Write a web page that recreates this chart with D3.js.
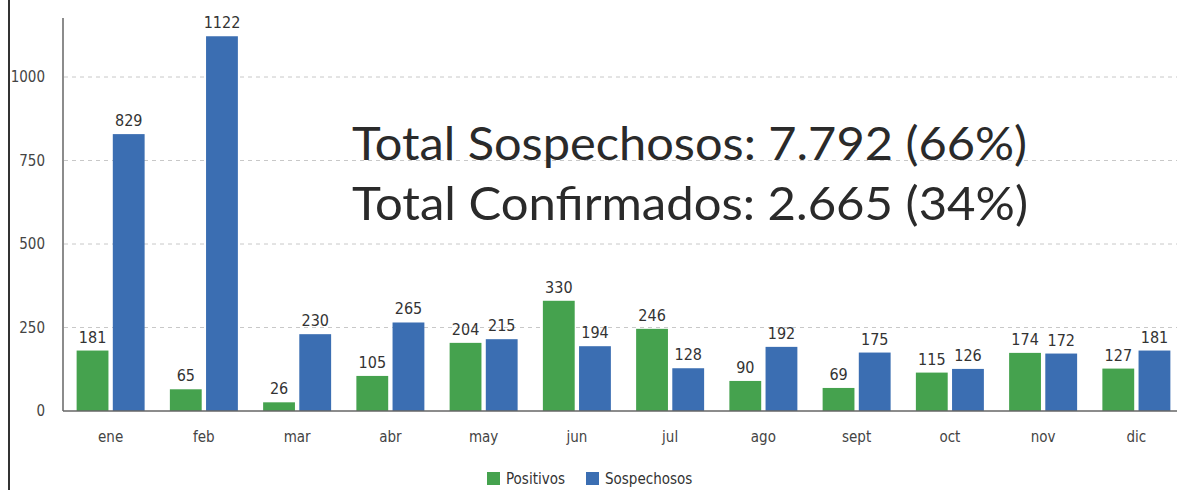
<!DOCTYPE html>
<html>
<head>
<meta charset="utf-8">
<script src="https://cdn.jsdelivr.net/npm/d3@7"></script>
<style>
  body { margin: 0; background: #fff; }
  svg { display: block; }
  .lbl { font-family: 'Liberation Sans Narrow', 'DejaVu Sans Condensed', 'Open Sans', sans-serif; }
</style>
</head>
<body>
<div id="chart"></div>
<script>
const months = ['ene', 'feb', 'mar', 'abr', 'may', 'jun', 'jul', 'ago', 'sept', 'oct', 'nov', 'dic'];
const positivos = [181, 65, 26, 105, 204, 330, 246, 90, 69, 115, 174, 127];
const sospechosos = [829, 1122, 230, 265, 215, 194, 128, 192, 175, 126, 172, 181];
const yTicks = [0, 250, 500, 750, 1000];
const seriesNames = ['Positivos', 'Sospechosos'];
const totals = ['Total Sospechosos: 7.792 (66%)', 'Total Confirmados: 2.665 (34%)'];

const width = 1177;
const height = 490;
const colors = ['#45a24e', '#3b6eb2'];

const svg = d3.select('#chart').append('svg')
  .attr('width', width)
  .attr('height', height);

// scanned page frame
svg.append('line')
  .attr('x1', 9).attr('x2', 9)
  .attr('y1', 0).attr('y2', height)
  .attr('stroke', '#333')
  .attr('stroke-width', 2);

const x = d3.scaleBand()
  .domain(months)
  .range([64, 1183]);
const inner = d3.scaleBand()
  .domain(seriesNames)
  .range([-34, 34])
  .paddingInner(0.12);
const y = d3.scaleLinear()
  .domain([0, 1000])
  .range([411, 77]);

// gridlines
svg.append('g')
  .selectAll('line')
  .data(yTicks.filter(d => d > 0))
  .enter().append('line')
  .attr('x1', 64).attr('x2', width)
  .attr('y1', d => y(d)).attr('y2', d => y(d))
  .attr('stroke', '#c8c8c8')
  .attr('stroke-dasharray', '4,4');

// y tick labels
svg.append('g')
  .selectAll('text')
  .data(yTicks)
  .enter().append('text')
  .attr('class', 'lbl')
  .attr('x', 45)
  .attr('y', d => y(d) + 5)
  .attr('text-anchor', 'end')
  .attr('font-size', 15)
  .attr('fill', '#444')
  .text(d => d);

// y axis line
svg.append('line')
  .attr('x1', 63).attr('x2', 63)
  .attr('y1', 18).attr('y2', y(0))
  .attr('stroke', '#666')
  .attr('stroke-width', 1.5);

const groups = svg.append('g')
  .selectAll('g')
  .data(months)
  .enter().append('g')
  .attr('transform', d => `translate(${x(d) + x.bandwidth() / 2},0)`);

[positivos, sospechosos].forEach((vals, s) => {
  groups.append('rect')
    .attr('x', inner(seriesNames[s]))
    .attr('width', inner.bandwidth())
    .attr('y', (d, i) => y(vals[i]))
    .attr('height', (d, i) => y(0) - y(vals[i]))
    .attr('fill', colors[s]);

  groups.append('text')
    .attr('class', 'lbl')
    .attr('x', inner(seriesNames[s]) + inner.bandwidth() / 2)
    .attr('y', (d, i) => y(vals[i]) - 8)
    .attr('text-anchor', 'middle')
    .attr('font-size', 16)
    .attr('fill', '#333')
    .text((d, i) => vals[i]);
});

// baseline
svg.append('line')
  .attr('x1', 63).attr('x2', width)
  .attr('y1', y(0)).attr('y2', y(0))
  .attr('stroke', '#666')
  .attr('stroke-width', 1.5);

// month labels
groups.append('text')
  .attr('class', 'lbl')
  .attr('y', 442)
  .attr('text-anchor', 'middle')
  .attr('font-size', 15)
  .attr('fill', '#444')
  .text(d => d);

// totals annotation
svg.append('g')
  .selectAll('text')
  .data(totals)
  .enter().append('text')
  .attr('x', 352)
  .attr('y', (d, i) => 160 + i * 60)
  .attr('font-family', 'Lato, sans-serif')
  .attr('font-size', 47)
  .attr('fill', '#2a2a2a')
  .attr('textLength', (d, i) => (i === 0 ? 675 : 676))
  .attr('lengthAdjust', 'spacingAndGlyphs')
  .text(d => d);

// legend
const legend = svg.append('g')
  .selectAll('g')
  .data(seriesNames)
  .enter().append('g')
  .attr('transform', (d, i) => `translate(${i === 0 ? 487 : 586},472)`);

legend.append('rect')
  .attr('width', 13)
  .attr('height', 13)
  .attr('fill', (d, i) => colors[i]);

legend.append('text')
  .attr('class', 'lbl')
  .attr('x', 19)
  .attr('y', 12)
  .attr('font-size', 15)
  .attr('fill', '#333')
  .text(d => d);
</script>
</body>
</html>
